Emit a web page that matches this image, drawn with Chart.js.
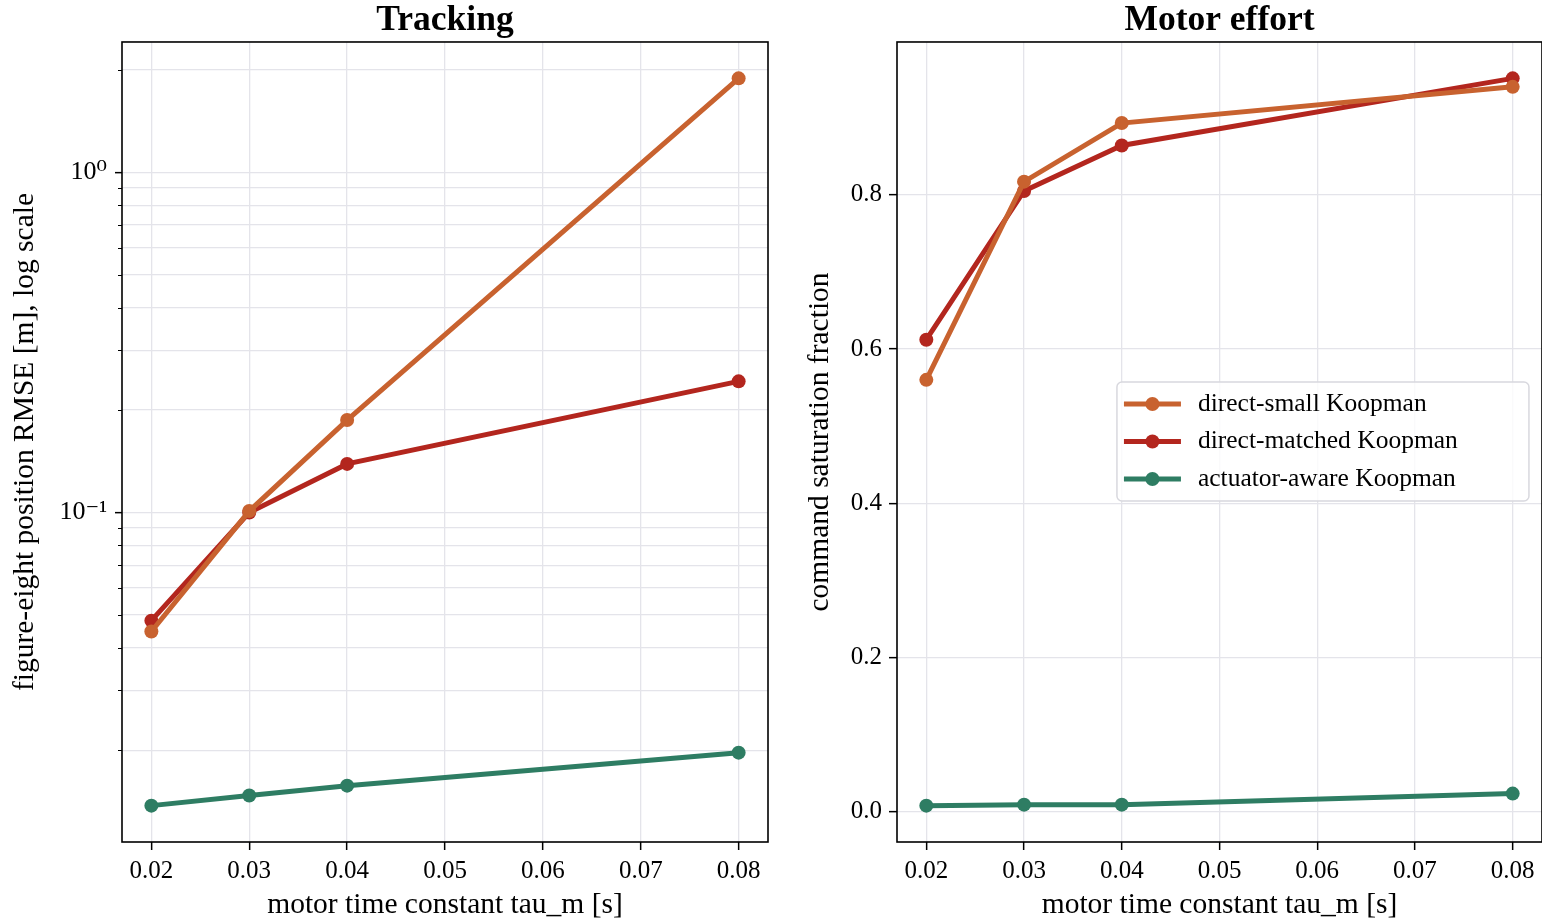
<!DOCTYPE html>
<html><head><meta charset="utf-8">
<script src="https://cdn.jsdelivr.net/npm/chart.js@4/dist/chart.umd.min.js"></script>
<style>
html,body{margin:0;padding:0;background:#fff;width:1542px;height:919px;overflow:hidden}
canvas{position:absolute;top:0}
#c1{left:0}
#c2{left:790px}
</style></head><body>
<canvas id="c1" width="800" height="919"></canvas>
<canvas id="c2" width="752" height="919"></canvas>
<script>
// ---- data ----
const tau = [0.02, 0.03, 0.04, 0.08];
const seriesNames = ['direct-small Koopman', 'direct-matched Koopman', 'actuator-aware Koopman'];
const seriesColors = ['#c8622f', '#b3261e', '#2e7d63'];
const rmseSmall = [0.0447, 0.101, 0.187, 1.89];
const rmseMatched = [0.0481, 0.100, 0.139, 0.243];
const rmseAware = [0.01375, 0.01472, 0.01574, 0.01968];
const satSmall = [0.560, 0.817, 0.893, 0.940];
const satMatched = [0.612, 0.805, 0.864, 0.951];
const satAware = [0.0078, 0.0091, 0.0091, 0.0234];
const xTicks = [0.02, 0.03, 0.04, 0.05, 0.06, 0.07, 0.08];
const logMajorTicks = [0.1, 1];
const logMajorLabels = ['10\u207B\u00B9', '10\u2070'];
const logMinorTicks = [0.02, 0.03, 0.04, 0.05, 0.06, 0.07, 0.08, 0.09, 0.2, 0.3, 0.4, 0.5, 0.6, 0.7, 0.8, 0.9, 2];
const linTicks = [0, 0.2, 0.4, 0.6, 0.8];
const titles = ['Tracking', 'Motor effort'];
const xLabel = 'motor time constant tau_m [s]';
const yLabels = ['figure-eight position RMSE [m], log scale', 'command saturation fraction'];

// ---- style ----
const FONT = "'Liberation Serif', 'Times New Roman', 'DejaVu Serif', serif";
const GRID = '#e4e4ea';
const TICK_FS = 25, LEG_FS = 25.5, LABEL_FS = 29.5, TITLE_FS = 35.5;

function pts(ys) { return tau.map((x, i) => ({x: x, y: ys[i]})); }
function ds(i, ys) {
  return {label: seriesNames[i], data: pts(ys), borderColor: seriesColors[i], backgroundColor: seriesColors[i],
    borderWidth: 5, pointRadius: 7, pointHoverRadius: 7, pointBorderWidth: 0,
    pointBackgroundColor: seriesColors[i], tension: 0};
}
function pad(lo, hi) { const m = (hi - lo) * 0.05; return [lo - m, hi + m]; }
const xr = pad(Math.min(...tau), Math.max(...tau));
const allR = rmseSmall.concat(rmseMatched, rmseAware).map(Math.log10);
const lr = pad(Math.min(...allR), Math.max(...allR));
const allS = satSmall.concat(satMatched, satAware);
const sr = pad(Math.min(...allS), Math.max(...allS));

function xScale() {
  return {type: 'linear', min: xr[0], max: xr[1],
    afterBuildTicks: s => { s.ticks = xTicks.map(v => ({value: v})); },
    afterFit: s => { s.height = 77; s.paddingLeft = 0; s.paddingRight = 0; },
    ticks: {autoSkip: false, maxRotation: 0, color: '#000', padding: 6, font: {family: FONT, size: TICK_FS},
      callback: v => v.toFixed(2)},
    grid: {color: GRID, lineWidth: 1.3, tickColor: '#000', tickLength: 8, tickWidth: 1.5},
    border: {display: false},
    title: {display: true, text: xLabel, color: '#000', font: {family: FONT, size: LABEL_FS, lineHeight: 1}, padding: {top: 0, bottom: -1}}
  };
}

const framePlugin = {
  id: 'frame',
  afterDraw(chart) {
    const {ctx, chartArea: a} = chart;
    ctx.save();
    ctx.strokeStyle = '#000'; ctx.lineWidth = 1.6;
    ctx.strokeRect(a.left, a.top, a.right - a.left, a.bottom - a.top);
    const minor = chart.options.plugins.frame && chart.options.plugins.frame.minor;
    if (minor) {
      const ys = chart.scales.y;
      ctx.lineWidth = 1.2;
      ctx.beginPath();
      minor.forEach(v => { const p = Math.round(ys.getPixelForValue(v)) + 0.5; if (p > a.top && p < a.bottom) { ctx.moveTo(a.left - 4, p); ctx.lineTo(a.left, p); } });
      ctx.stroke();
    }
    const lg = chart.options.plugins.frame && chart.options.plugins.frame.legend;
    if (lg) {
      const w = a.right - a.left, h = a.bottom - a.top;
      const bx = a.left + lg.fx * w, by = a.top + lg.fy * h, bw = lg.w, bh = lg.h;
      ctx.fillStyle = 'rgba(255,255,255,0.8)';
      ctx.strokeStyle = '#d8d8de'; ctx.lineWidth = 1.5;
      ctx.beginPath(); ctx.roundRect(bx, by, bw, bh, 5); ctx.fill(); ctx.stroke();
      chart.data.datasets.forEach((d, i) => {
        const cy = by + 22 + i * 37.5;
        ctx.strokeStyle = d.borderColor; ctx.lineWidth = 5;
        ctx.beginPath(); ctx.moveTo(bx + 7, cy); ctx.lineTo(bx + 64, cy); ctx.stroke();
        ctx.fillStyle = d.borderColor;
        ctx.beginPath(); ctx.arc(bx + 35.5, cy, 7, 0, Math.PI * 2); ctx.fill();
        ctx.fillStyle = '#000'; ctx.font = LEG_FS + 'px ' + FONT; ctx.textBaseline = 'middle'; ctx.textAlign = 'left';
        ctx.fillText(d.label, bx + 81, cy);
      });
    }
    ctx.restore();
  }
};

function titleOpt(t) {
  return {display: true, text: t, color: '#000', fullSize: false, padding: {top: 2, bottom: 2},
    font: {family: FONT, size: TITLE_FS, weight: 'bold', lineHeight: 1.07}};
}

new Chart(document.getElementById('c1'), {
  type: 'line',
  data: {datasets: [ds(0, rmseSmall), ds(1, rmseMatched), ds(2, rmseAware)]},
  options: {
    responsive: false, animation: false, devicePixelRatio: 1,
    layout: {autoPadding: false, padding: {left: 0, right: 32, top: 0, bottom: 0}},
    plugins: {legend: {display: false}, tooltip: {enabled: false}, title: titleOpt(titles[0]),
      frame: {minor: logMinorTicks}},
    scales: {
      x: xScale(),
      y: {type: 'logarithmic', min: Math.pow(10, lr[0]), max: Math.pow(10, lr[1]),
        afterBuildTicks: s => { s.ticks = logMajorTicks.concat(logMinorTicks).map(v => ({value: v})); },
        afterFit: s => { s.width = 122; },
        ticks: {autoSkip: false, color: '#000', padding: 8, font: {family: FONT, size: 26},
          callback: v => { const k = logMajorTicks.indexOf(v); return k >= 0 ? logMajorLabels[k] : ''; }},
        grid: {color: GRID, lineWidth: 1.3, tickLength: 7, tickWidth: 1.5,
          tickColor: c => (c.tick && logMajorTicks.indexOf(c.tick.value) >= 0) ? '#000' : 'rgba(0,0,0,0)'},
        border: {display: false},
        title: {display: true, text: yLabels[0], color: '#000', font: {family: FONT, size: LABEL_FS, lineHeight: 1}, padding: {top: 10, bottom: 0}}
      }
    }
  },
  plugins: [framePlugin]
});

new Chart(document.getElementById('c2'), {
  type: 'line',
  data: {datasets: [ds(0, satSmall), ds(1, satMatched), ds(2, satAware)]},
  options: {
    responsive: false, animation: false, devicePixelRatio: 1,
    layout: {autoPadding: false, padding: {left: 0, right: 0, top: 0, bottom: 0}},
    plugins: {legend: {display: false}, tooltip: {enabled: false}, title: titleOpt(titles[1]),
      frame: {legend: {fx: 0.341, fy: 0.425, w: 412, h: 119}}},
    scales: {
      x: xScale(),
      y: {type: 'linear', min: sr[0], max: sr[1],
        afterBuildTicks: s => { s.ticks = linTicks.map(v => ({value: v})); },
        afterFit: s => { s.width = 107; },
        ticks: {autoSkip: false, color: '#000', padding: 7, font: {family: FONT, size: TICK_FS},
          callback: v => v.toFixed(1)},
        grid: {color: GRID, lineWidth: 1.3, tickColor: '#000', tickLength: 8, tickWidth: 1.5},
        border: {display: false},
        title: {display: true, text: yLabels[1], color: '#000', font: {family: FONT, size: LABEL_FS, lineHeight: 1}, padding: {top: 15, bottom: 0}}
      }
    }
  },
  plugins: [framePlugin]
});
</script>
</body></html>
